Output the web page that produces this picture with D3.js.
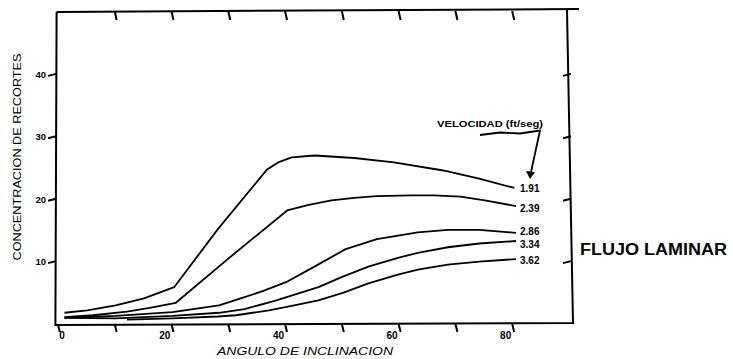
<!DOCTYPE html>
<html>
<head>
<meta charset="utf-8">
<script src="https://cdn.jsdelivr.net/npm/d3@7"></script>
<style>
  body { margin: 0; background: #fff; }
  svg { display: block; font-family: "Liberation Sans", Arial, sans-serif; }
</style>
</head>
<body>
<svg id="chart" width="733" height="359"></svg>
<script>
// curvas: [angulo, concentracion]
const velocidades = ["1.91", "2.39", "2.86", "3.34", "3.62"];
const s191 = [[1,1.8],[5,2.2],[10,3.0],[15,4.1],[20.3,5.9],[28,15.2],[36.6,24.7],[38.6,25.9],[41,26.7],[45,27],[52,26.6],[59,25.9],[67.7,24.6],[74,23.3],[80.2,21.8]];
const s239 = [[1,1.1],[6,1.4],[12,2.0],[16,2.6],[20.6,3.4],[30,10.6],[40.2,18.2],[44,19.1],[48,19.8],[52,20.2],[56,20.5],[62,20.6],[66,20.6],[70.7,20.4],[75,19.8],[80.5,18.9]];
const s286 = [[1,1.0],[10,1.3],[20,1.9],[28.2,3.0],[32.7,4.3],[36,5.3],[40,6.7],[45,9.2],[50.5,12.0],[56,13.6],[63.2,14.7],[68.5,15.1],[74,15.1],[80.5,14.6]];
const s334 = [[1,1.0],[10,0.9],[20,1.3],[28.2,1.8],[32.7,2.4],[38,3.7],[45.7,5.9],[50,7.6],[54.5,9.2],[59.7,10.6],[63.2,11.4],[68.5,12.3],[74,12.9],[80.5,13.3]];
const s362 = [[12,0.7],[20,0.9],[28,1.2],[31.2,1.4],[37,2.2],[41,2.9],[45.7,3.8],[50,5.0],[54.5,6.5],[59.7,7.9],[63.2,8.7],[68.5,9.5],[74,10.0],[80.5,10.4]];
const series = [s191, s239, s286, s334, s362];
const labelDy = [1, 2, -1, 3, 1];

const xTicks = [0, 10, 20, 30, 40, 50, 60, 70, 80];
const xLabels = [0, 20, 40, 60, 80];
const yTicks = [10, 20, 30, 40];

const svg = d3.select("#chart");
const x = d3.scaleLinear().domain([-0.5, 90]).range([56, 570]);
const y = d3.scaleLinear().domain([0, 50]).range([324, 12]);

// marco, algo torcido como en el papel escaneado
const x0 = x(-0.5), x1 = x(90), yb = y(0), yt = y(50);
const seg = d3.line();
svg.append("path")
  .attr("d", seg([[x0 + 0.6, yt], [x0 - 0.6, yb + 1], [x1 + 3, yb - 1], [x1 - 3, yt - 2]]))
  .attr("fill", "none").attr("stroke", "#000").attr("stroke-width", 2);
svg.append("path")
  .attr("d", seg([[x0 + 0.6, yt], [x1 + 9, yt - 3]]))
  .attr("fill", "none").attr("stroke", "#000").attr("stroke-width", 2);

// marcas de los ejes, con una ligera inclinacion
let tickD = "";
yTicks.forEach(v => {
  tickD += seg([[x0 - 8, y(v) + 1.5], [x0, y(v) - 0.5]]);
  tickD += seg([[x1 - 7, y(v) + 1.5], [x1 + 1, y(v) - 0.5]]);
});
xTicks.forEach(v => {
  tickD += seg([[x(v) - 1, yb], [x(v) + 1, yb + 8]]);
  if (v > 0) tickD += seg([[x(v) - 1, yt - 1], [x(v) + 1, yt + 8]]);
});
svg.append("path").attr("d", tickD)
  .attr("fill", "none").attr("stroke", "#000").attr("stroke-width", 2);

svg.append("g").selectAll("text").data(yTicks).join("text")
  .attr("x", x0 - 10).attr("y", d => y(d) + 3.5)
  .attr("text-anchor", "end")
  .attr("font-size", 9.5).attr("font-weight", "bold")
  .text(d => d);

svg.append("g").selectAll("text").data(xLabels).join("text")
  .attr("x", d => d === 0 ? x(d) + 6 : x(d) - 2)
  .attr("y", 339)
  .attr("text-anchor", "end")
  .attr("font-size", 10).attr("font-weight", "bold")
  .text(d => d);

// curvas
const line = d3.line().x(d => x(d[0])).y(d => y(d[1])).curve(d3.curveLinear);
svg.append("g").selectAll("path").data(series).join("path")
  .attr("d", line)
  .attr("fill", "none").attr("stroke", "#000").attr("stroke-width", 1.8)
  .attr("stroke-linejoin", "round");

svg.append("g").selectAll("text").data(series).join("text")
  .attr("x", 520)
  .attr("y", (d, i) => y(d[d.length - 1][1]) + labelDy[i] + 3.5)
  .attr("font-size", 10).attr("font-weight", "bold")
  .text((d, i) => velocidades[i]);

// leyenda
svg.append("text").attr("x", 437).attr("y", 127).attr("font-size", 9).attr("font-weight", "bold")
  .attr("textLength", 106).attr("lengthAdjust", "spacingAndGlyphs")
  .text("VELOCIDAD (ft/seg)");
svg.append("path").attr("d", "M480,135 L500,132.5 L520,133.5 L540,130.5 L531,172")
  .attr("fill", "none").attr("stroke", "#000").attr("stroke-width", 1.8)
  .attr("stroke-linejoin", "round");
svg.append("path").attr("d", "M526,171 L535,172 L530,179 Z").attr("fill", "#000");

// titulos
svg.append("text").attr("transform", "translate(21,157) rotate(-90)")
  .attr("text-anchor", "middle").attr("font-size", 11)
  .attr("textLength", 207).attr("lengthAdjust", "spacingAndGlyphs")
  .text("CONCENTRACION DE RECORTES");
svg.append("text").attr("x", 305).attr("y", 355)
  .attr("text-anchor", "middle").attr("font-size", 11).attr("font-style", "italic")
  .attr("textLength", 176).attr("lengthAdjust", "spacingAndGlyphs")
  .text("ANGULO DE INCLINACION");
svg.append("text").attr("x", 580).attr("y", 255)
  .attr("font-size", 16).attr("font-weight", "bold")
  .attr("textLength", 147).attr("lengthAdjust", "spacingAndGlyphs")
  .text("FLUJO LAMINAR");
</script>
</body>
</html>
